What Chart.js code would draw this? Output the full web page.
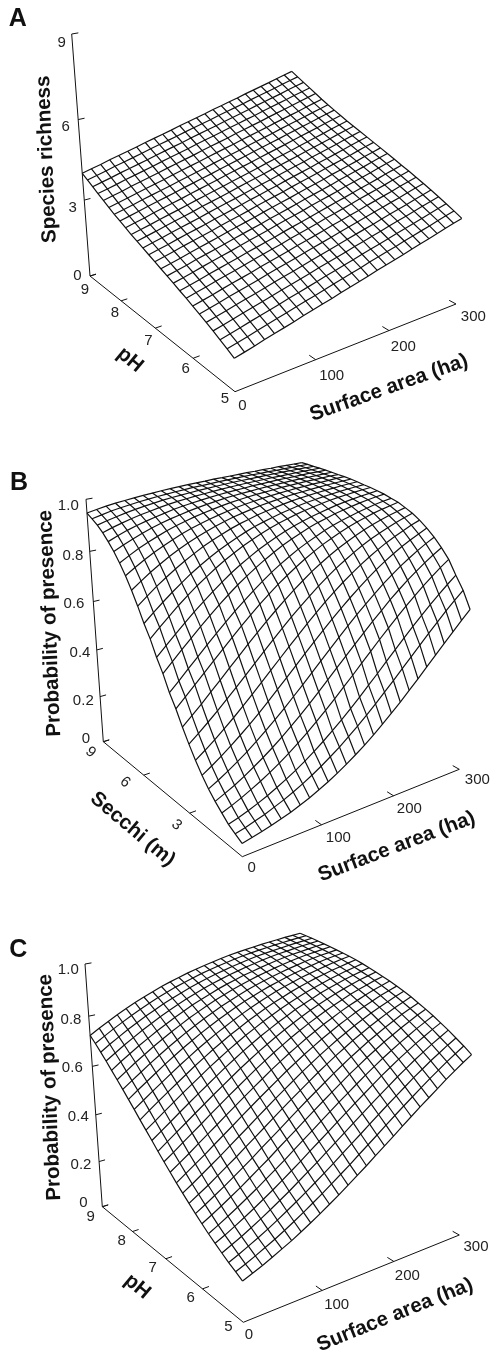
<!DOCTYPE html>
<html>
<head>
<meta charset="utf-8">
<title>Species richness and probability of presence surfaces</title>
<script src="https://cdn.jsdelivr.net/npm/chart.js@4"></script>
<style>
html,body{margin:0;padding:0;background:#fff;width:491px;height:1351px;overflow:hidden}
canvas{position:absolute;left:0;display:block}
</style>
</head>
<body>
<canvas id="panelA" width="491" height="440" style="top:0"></canvas>
<canvas id="panelB" width="491" height="470" style="top:440px"></canvas>
<canvas id="panelC" width="491" height="441" style="top:910px"></canvas>
<script>
// ---------- grid nodes and tick values ----------
const areaNodes = [0,12,24,36,48,60,72,84,96,108,120,132,144,156,168,180,192,204,216,228,240,252,264,276,288,300];
const phNodes = [5,5.16,5.32,5.48,5.64,5.8,5.96,6.12,6.28,6.44,6.6,6.76,6.92,7.08,7.24,7.4,7.56,7.72,7.88,8.04,8.2,8.36,8.52,8.68,8.84,9];
const secchiNodes = [0,0.36,0.72,1.08,1.44,1.8,2.16,2.52,2.88,3.24,3.6,3.96,4.32,4.68,5.04,5.4,5.76,6.12,6.48,6.84,7.2,7.56,7.92,8.28,8.64,9];
const areaTicks = [0,100,200,300];
const phTicks = [5,6,7,8,9];
const secchiTicks = [3,6,9];
const richnessTicks = [0,3,6,9];
const probabilityTicks = [0,0.2,0.4,0.6,0.8,1];

// ---------- surface heights: one row per pH / Secchi node, one value per area node ----------
const richness = [
[1.15,1.23,1.31,1.40,1.48,1.56,1.64,1.73,1.81,1.89,1.97,2.06,2.14,2.22,2.30,2.39,2.47,2.55,2.63,2.72,2.80,2.88,2.96,3.05,3.13,3.21],
[1.29,1.37,1.45,1.54,1.62,1.70,1.78,1.87,1.95,2.03,2.11,2.20,2.28,2.36,2.44,2.53,2.61,2.69,2.77,2.86,2.94,3.02,3.10,3.19,3.27,3.35],
[1.42,1.50,1.58,1.67,1.75,1.83,1.91,2.00,2.08,2.16,2.24,2.33,2.41,2.49,2.57,2.66,2.74,2.82,2.90,2.99,3.07,3.15,3.23,3.32,3.40,3.48],
[1.55,1.63,1.71,1.80,1.88,1.96,2.04,2.13,2.21,2.29,2.37,2.46,2.54,2.62,2.70,2.79,2.87,2.95,3.03,3.12,3.20,3.28,3.36,3.45,3.53,3.61],
[1.67,1.75,1.83,1.92,2.00,2.08,2.16,2.25,2.33,2.41,2.49,2.58,2.66,2.74,2.82,2.91,2.99,3.07,3.15,3.24,3.32,3.40,3.48,3.57,3.65,3.73],
[1.79,1.87,1.95,2.04,2.12,2.20,2.28,2.37,2.45,2.53,2.61,2.70,2.78,2.86,2.94,3.03,3.11,3.19,3.27,3.36,3.44,3.52,3.60,3.69,3.77,3.85],
[1.90,1.98,2.06,2.15,2.23,2.31,2.39,2.48,2.56,2.64,2.72,2.81,2.89,2.97,3.05,3.14,3.22,3.30,3.38,3.47,3.55,3.63,3.71,3.80,3.88,3.96],
[2.01,2.09,2.17,2.26,2.34,2.42,2.50,2.59,2.67,2.75,2.83,2.92,3.00,3.08,3.16,3.25,3.33,3.41,3.49,3.58,3.66,3.74,3.82,3.91,3.99,4.07],
[2.11,2.19,2.27,2.36,2.44,2.52,2.60,2.69,2.77,2.85,2.93,3.02,3.10,3.18,3.26,3.35,3.43,3.51,3.59,3.68,3.76,3.84,3.92,4.01,4.09,4.17],
[2.22,2.30,2.38,2.47,2.55,2.63,2.71,2.80,2.88,2.96,3.04,3.13,3.21,3.29,3.37,3.46,3.54,3.62,3.70,3.79,3.87,3.95,4.03,4.12,4.20,4.28],
[2.32,2.40,2.48,2.57,2.65,2.73,2.81,2.90,2.98,3.06,3.14,3.23,3.31,3.39,3.47,3.56,3.64,3.72,3.80,3.89,3.97,4.05,4.13,4.22,4.30,4.38],
[2.42,2.50,2.58,2.67,2.75,2.83,2.91,3.00,3.08,3.16,3.24,3.33,3.41,3.49,3.57,3.66,3.74,3.82,3.90,3.99,4.07,4.15,4.23,4.32,4.40,4.48],
[2.52,2.60,2.68,2.77,2.85,2.93,3.01,3.10,3.18,3.26,3.34,3.43,3.51,3.59,3.67,3.76,3.84,3.92,4.00,4.09,4.17,4.25,4.33,4.42,4.50,4.58],
[2.62,2.70,2.78,2.87,2.95,3.03,3.11,3.20,3.28,3.36,3.44,3.53,3.61,3.69,3.77,3.86,3.94,4.02,4.10,4.19,4.27,4.35,4.43,4.52,4.60,4.68],
[2.72,2.80,2.88,2.97,3.05,3.13,3.21,3.30,3.38,3.46,3.54,3.63,3.71,3.79,3.87,3.96,4.04,4.12,4.20,4.29,4.37,4.45,4.53,4.62,4.70,4.78],
[2.82,2.90,2.98,3.07,3.15,3.23,3.31,3.40,3.48,3.56,3.64,3.73,3.81,3.89,3.97,4.06,4.14,4.22,4.30,4.39,4.47,4.55,4.63,4.72,4.80,4.88],
[2.92,3.00,3.08,3.17,3.25,3.33,3.41,3.50,3.58,3.66,3.74,3.83,3.91,3.99,4.07,4.16,4.24,4.32,4.40,4.49,4.57,4.65,4.73,4.82,4.90,4.98],
[3.03,3.11,3.19,3.28,3.36,3.44,3.52,3.61,3.69,3.77,3.85,3.94,4.02,4.10,4.18,4.27,4.35,4.43,4.51,4.60,4.68,4.76,4.84,4.93,5.01,5.09],
[3.14,3.22,3.30,3.39,3.47,3.55,3.63,3.72,3.80,3.88,3.96,4.05,4.13,4.21,4.29,4.38,4.46,4.54,4.62,4.71,4.79,4.87,4.95,5.04,5.12,5.20],
[3.25,3.33,3.41,3.50,3.58,3.66,3.74,3.83,3.91,3.99,4.07,4.16,4.24,4.32,4.40,4.49,4.57,4.65,4.73,4.82,4.90,4.98,5.06,5.15,5.23,5.31],
[3.37,3.45,3.53,3.62,3.70,3.78,3.86,3.95,4.03,4.11,4.19,4.28,4.36,4.44,4.52,4.61,4.69,4.77,4.85,4.94,5.02,5.10,5.18,5.27,5.35,5.43],
[3.50,3.58,3.66,3.75,3.83,3.91,3.99,4.08,4.16,4.24,4.32,4.41,4.49,4.57,4.65,4.74,4.82,4.90,4.98,5.07,5.15,5.23,5.31,5.40,5.48,5.56],
[3.63,3.71,3.79,3.88,3.96,4.04,4.12,4.21,4.29,4.37,4.45,4.54,4.62,4.70,4.78,4.87,4.95,5.03,5.11,5.20,5.28,5.36,5.44,5.53,5.61,5.69],
[3.76,3.84,3.92,4.01,4.09,4.17,4.25,4.34,4.42,4.50,4.58,4.67,4.75,4.83,4.91,5.00,5.08,5.16,5.24,5.33,5.41,5.49,5.57,5.66,5.74,5.82],
[3.89,3.97,4.05,4.14,4.22,4.30,4.38,4.47,4.55,4.63,4.71,4.80,4.88,4.96,5.04,5.13,5.21,5.29,5.37,5.46,5.54,5.62,5.70,5.79,5.87,5.95],
[4.02,4.10,4.18,4.27,4.35,4.43,4.51,4.60,4.68,4.76,4.84,4.93,5.01,5.09,5.17,5.26,5.34,5.42,5.50,5.59,5.67,5.75,5.83,5.92,6.00,6.08]
];
const presenceSecchi = [
[.051,.059,.067,.076,.087,.098,.112,.126,.143,.161,.181,.203,.227,.252,.280,.309,.340,.372,.406,.440,.475,.510,.545,.580,.614,.647],
[.067,.076,.087,.098,.112,.126,.143,.161,.181,.203,.227,.252,.280,.309,.340,.372,.406,.440,.475,.510,.545,.580,.614,.647,.678,.708],
[.083,.094,.107,.121,.137,.155,.174,.195,.218,.243,.270,.299,.329,.361,.394,.429,.463,.499,.534,.569,.603,.636,.668,.698,.727,.754],
[.107,.121,.137,.155,.174,.195,.218,.243,.270,.299,.329,.361,.394,.429,.463,.499,.534,.569,.603,.636,.668,.698,.727,.754,.780,.803],
[.132,.149,.167,.188,.211,.235,.261,.289,.319,.350,.383,.417,.452,.487,.522,.557,.591,.625,.657,.689,.718,.746,.771,.795,.817,.837],
[.161,.181,.203,.227,.252,.280,.309,.340,.372,.406,.440,.475,.510,.545,.580,.614,.647,.678,.708,.737,.763,.788,.810,.831,.850,.867],
[.195,.218,.243,.270,.299,.329,.361,.394,.429,.463,.499,.534,.569,.603,.636,.668,.698,.727,.754,.780,.803,.824,.844,.861,.877,.892],
[.235,.261,.289,.319,.350,.383,.417,.452,.487,.522,.557,.591,.625,.657,.689,.718,.746,.771,.795,.817,.837,.856,.872,.887,.901,.913],
[.280,.309,.340,.372,.406,.440,.475,.510,.545,.580,.614,.647,.678,.708,.737,.763,.788,.810,.831,.850,.867,.882,.896,.909,.920,.930],
[.329,.361,.394,.429,.463,.499,.534,.569,.603,.636,.668,.698,.727,.754,.780,.803,.824,.844,.861,.877,.892,.905,.916,.926,.935,.943],
[.383,.417,.452,.487,.522,.557,.591,.625,.657,.689,.718,.746,.771,.795,.817,.837,.856,.872,.887,.901,.913,.923,.933,.941,.948,.955],
[.429,.463,.499,.534,.569,.603,.636,.668,.698,.727,.754,.780,.803,.824,.844,.861,.877,.892,.905,.916,.926,.935,.943,.951,.957,.962],
[.487,.522,.557,.591,.625,.657,.689,.718,.746,.771,.795,.817,.837,.856,.872,.887,.901,.913,.923,.933,.941,.948,.955,.961,.966,.970],
[.534,.569,.603,.636,.668,.698,.727,.754,.780,.803,.824,.844,.861,.877,.892,.905,.916,.926,.935,.943,.951,.957,.962,.967,.971,.975],
[.591,.625,.657,.689,.718,.746,.771,.795,.817,.837,.856,.872,.887,.901,.913,.923,.933,.941,.948,.955,.961,.966,.970,.974,.977,.980],
[.636,.668,.698,.727,.754,.780,.803,.824,.844,.861,.877,.892,.905,.916,.926,.935,.943,.951,.957,.962,.967,.971,.975,.978,.981,.983],
[.689,.718,.746,.771,.795,.817,.837,.856,.872,.887,.901,.913,.923,.933,.941,.948,.955,.961,.966,.970,.974,.977,.980,.983,.985,.987],
[.737,.763,.788,.810,.831,.850,.867,.882,.896,.909,.920,.930,.938,.946,.953,.959,.964,.969,.973,.976,.979,.982,.984,.986,.988,.990],
[.780,.803,.824,.844,.861,.877,.892,.905,.916,.926,.935,.943,.951,.957,.962,.967,.971,.975,.978,.981,.983,.986,.987,.989,.991,.992],
[.817,.837,.856,.872,.887,.901,.913,.923,.933,.941,.948,.955,.961,.966,.970,.974,.977,.980,.983,.985,.987,.989,.990,.991,.993,.993],
[.850,.867,.882,.896,.909,.920,.930,.938,.946,.953,.959,.964,.969,.973,.976,.979,.982,.984,.986,.988,.990,.991,.992,.993,.994,.995],
[.877,.892,.905,.916,.926,.935,.943,.951,.957,.962,.967,.971,.975,.978,.981,.983,.986,.987,.989,.991,.992,.993,.994,.995,.995,.996],
[.901,.913,.923,.933,.941,.948,.955,.961,.966,.970,.974,.977,.980,.983,.985,.987,.989,.990,.991,.993,.993,.994,.995,.996,.996,.997],
[.920,.930,.938,.946,.953,.959,.964,.969,.973,.976,.979,.982,.984,.986,.988,.990,.991,.992,.993,.994,.995,.996,.996,.997,.997,.997],
[.935,.943,.951,.957,.962,.967,.971,.975,.978,.981,.983,.986,.987,.989,.991,.992,.993,.994,.995,.995,.996,.996,.997,.997,.998,.998],
[.948,.955,.961,.966,.970,.974,.977,.980,.983,.985,.987,.989,.990,.991,.993,.993,.994,.995,.996,.996,.997,.997,.998,.998,.998,.998]
];
const presencePH = [
[.157,.172,.187,.204,.222,.240,.260,.281,.303,.326,.349,.374,.399,.424,.451,.477,.503,.530,.556,.582,.607,.632,.657,.680,.703,.724],
[.172,.187,.204,.222,.240,.260,.281,.303,.326,.349,.374,.399,.424,.451,.477,.503,.530,.556,.582,.607,.632,.657,.680,.703,.724,.745],
[.187,.204,.222,.240,.260,.281,.303,.326,.349,.374,.399,.424,.451,.477,.503,.530,.556,.582,.607,.632,.657,.680,.703,.724,.745,.764],
[.204,.222,.240,.260,.281,.303,.326,.349,.374,.399,.424,.451,.477,.503,.530,.556,.582,.607,.632,.657,.680,.703,.724,.745,.764,.783],
[.222,.240,.260,.281,.303,.326,.349,.374,.399,.424,.451,.477,.503,.530,.556,.582,.607,.632,.657,.680,.703,.724,.745,.764,.783,.800],
[.240,.260,.281,.303,.326,.349,.374,.399,.424,.451,.477,.503,.530,.556,.582,.607,.632,.657,.680,.703,.724,.745,.764,.783,.800,.817],
[.260,.281,.303,.326,.349,.374,.399,.424,.451,.477,.503,.530,.556,.582,.607,.632,.657,.680,.703,.724,.745,.764,.783,.800,.817,.832],
[.281,.303,.326,.349,.374,.399,.424,.451,.477,.503,.530,.556,.582,.607,.632,.657,.680,.703,.724,.745,.764,.783,.800,.817,.832,.846],
[.303,.326,.349,.374,.399,.424,.451,.477,.503,.530,.556,.582,.607,.632,.657,.680,.703,.724,.745,.764,.783,.800,.817,.832,.846,.860],
[.326,.349,.374,.399,.424,.451,.477,.503,.530,.556,.582,.607,.632,.657,.680,.703,.724,.745,.764,.783,.800,.817,.832,.846,.860,.872],
[.349,.374,.399,.424,.451,.477,.503,.530,.556,.582,.607,.632,.657,.680,.703,.724,.745,.764,.783,.800,.817,.832,.846,.860,.872,.883],
[.374,.399,.424,.451,.477,.503,.530,.556,.582,.607,.632,.657,.680,.703,.724,.745,.764,.783,.800,.817,.832,.846,.860,.872,.883,.894],
[.399,.424,.451,.477,.503,.530,.556,.582,.607,.632,.657,.680,.703,.724,.745,.764,.783,.800,.817,.832,.846,.860,.872,.883,.894,.903],
[.424,.451,.477,.503,.530,.556,.582,.607,.632,.657,.680,.703,.724,.745,.764,.783,.800,.817,.832,.846,.860,.872,.883,.894,.903,.912],
[.451,.477,.503,.530,.556,.582,.607,.632,.657,.680,.703,.724,.745,.764,.783,.800,.817,.832,.846,.860,.872,.883,.894,.903,.912,.920],
[.477,.503,.530,.556,.582,.607,.632,.657,.680,.703,.724,.745,.764,.783,.800,.817,.832,.846,.860,.872,.883,.894,.903,.912,.920,.928],
[.503,.530,.556,.582,.607,.632,.657,.680,.703,.724,.745,.764,.783,.800,.817,.832,.846,.860,.872,.883,.894,.903,.912,.920,.928,.935],
[.530,.556,.582,.607,.632,.657,.680,.703,.724,.745,.764,.783,.800,.817,.832,.846,.860,.872,.883,.894,.903,.912,.920,.928,.935,.941],
[.556,.582,.607,.632,.657,.680,.703,.724,.745,.764,.783,.800,.817,.832,.846,.860,.872,.883,.894,.903,.912,.920,.928,.935,.941,.946],
[.582,.607,.632,.657,.680,.703,.724,.745,.764,.783,.800,.817,.832,.846,.860,.872,.883,.894,.903,.912,.920,.928,.935,.941,.946,.951],
[.607,.632,.657,.680,.703,.724,.745,.764,.783,.800,.817,.832,.846,.860,.872,.883,.894,.903,.912,.920,.928,.935,.941,.946,.951,.956],
[.632,.657,.680,.703,.724,.745,.764,.783,.800,.817,.832,.846,.860,.872,.883,.894,.903,.912,.920,.928,.935,.941,.946,.951,.956,.960],
[.657,.680,.703,.724,.745,.764,.783,.800,.817,.832,.846,.860,.872,.883,.894,.903,.912,.920,.928,.935,.941,.946,.951,.956,.960,.964],
[.680,.703,.724,.745,.764,.783,.800,.817,.832,.846,.860,.872,.883,.894,.903,.912,.920,.928,.935,.941,.946,.951,.956,.960,.964,.968],
[.703,.724,.745,.764,.783,.800,.817,.832,.846,.860,.872,.883,.894,.903,.912,.920,.928,.935,.941,.946,.951,.956,.960,.964,.968,.971],
[.724,.745,.764,.783,.800,.817,.832,.846,.860,.872,.883,.894,.903,.912,.920,.928,.935,.941,.946,.951,.956,.960,.964,.968,.971,.974]
];

// ---------- view settings (page pixels) ----------
const INK = '#111111';
const TICK_FONT = '15px "Liberation Sans", Arial, sans-serif';
const TITLE_FONT = 'bold 20.5px "Liberation Sans", Arial, sans-serif';
const LETTER_FONT = 'bold 25px "Liberation Sans", Arial, sans-serif';
const PERSPECTIVE = {a: 0.15, b: 0.22, c: -0.105};
const deg = d => d * Math.PI / 180;

function makeProjection(view, yMin, yMax, zMax) {
  const {a, b, c} = PERSPECTIVE;
  const {O, U, V, Z} = view;
  const k = i => [
    U[i] * (1 + a) - O[i],
    V[i] * (1 + b) - O[i],
    Z[i] * (1 + b + c) - V[i] * (1 + b)
  ];
  const kx = k(0), ky = k(1);
  return (area, yVal, zVal) => {
    const u = area / 300, v = (yVal - yMin) / (yMax - yMin), t = zVal / zMax;
    const w = 1 + a * u + b * v + c * t;
    return {
      x: (O[0] + kx[0] * u + kx[1] * v + kx[2] * t) / w,
      y: (O[1] + ky[0] * u + ky[1] * v + ky[2] * t) / w
    };
  };
}

const lineSet = (data, width) => ({
  data, showLine: true, borderColor: INK, backgroundColor: INK,
  borderWidth: width, pointRadius: 0, tension: 0, clip: false
});

function buildPanel(cfg) {
  const P = makeProjection(cfg.view, cfg.yNodes[0], cfg.yNodes[cfg.yNodes.length - 1], cfg.zTicks[cfg.zTicks.length - 1]);
  const yLo = cfg.yNodes[0], yHi = cfg.yNodes[cfg.yNodes.length - 1], zHi = cfg.zTicks[cfg.zTicks.length - 1];
  const sets = [];
  // axes
  sets.push(lineSet([P(0, yHi, 0), P(0, yHi, zHi)], 1));
  sets.push(lineSet([P(0, yHi, 0), P(0, yLo, 0)], 1));
  sets.push(lineSet([P(0, yLo, 0), P(300, yLo, 0)], 1));
  // tick marks
  cfg.zTicks.forEach(z => sets.push(lineSet([P(0, yHi, z), P(8, yHi, z)], 1)));
  cfg.yTicks.forEach(y => sets.push(lineSet([P(0, y, 0), P(8, y, 0)], 1)));
  areaTicks.slice(1).forEach(t => sets.push(lineSet([P(t, yLo, 0), P(t, yLo + (yHi - yLo) * 0.035, 0)], 1)));
  // surface mesh
  cfg.surface.forEach((row, j) => sets.push(lineSet(row.map((z, i) => P(areaNodes[i], cfg.yNodes[j], z)), 1.2)));
  areaNodes.forEach((area, i) => sets.push(lineSet(cfg.yNodes.map((y, j) => P(area, y, cfg.surface[j][i])), 1.2)));

  new Chart(document.getElementById(cfg.id), {
    type: 'scatter',
    data: {datasets: sets},
    options: {
      responsive: false, animation: false, events: [],
      layout: {padding: 0},
      plugins: {legend: {display: false}, tooltip: {enabled: false}},
      scales: {
        x: {type: 'linear', display: false, min: 0, max: 491},
        y: {type: 'linear', display: false, min: cfg.top, max: cfg.top + cfg.height, reverse: true}
      }
    },
    plugins: [{
      id: 'panelText',
      afterDatasetsDraw(chart) {
        const g = chart.ctx, sx = chart.scales.x, sy = chart.scales.y;
        g.save();
        g.textAlign = 'center';
        g.textBaseline = 'middle';
        cfg.texts.forEach(([s, x, y, font, rot, color]) => {
          g.save();
          g.translate(sx.getPixelForValue(x), sy.getPixelForValue(y));
          if (rot) g.rotate(deg(rot));
          g.font = font;
          g.fillStyle = color || '#111';
          g.fillText(s, 0, 0);
          g.restore();
        });
        g.restore();
      }
    }]
  });
}

const tick = (s, x, y, rot) => [s, x, y, TICK_FONT, rot || 0, '#222'];
const title = (s, x, y, rot) => [s, x, y, TITLE_FONT, rot, '#111'];
const letter = (s, x, y) => [s, x, y, LETTER_FONT, 0, '#111'];

buildPanel({
  id: 'panelA', top: 0, height: 440,
  view: {O: [235, 391.7], U: [456, 304], V: [90, 276], Z: [71.7, 34]},
  yNodes: phNodes, yTicks: phTicks.slice(1), zTicks: richnessTicks, surface: richness,
  texts: [
    letter('A', 17.7, 18.8),
    tick('9', 61.7, 42.7), tick('6', 65.7, 126.7), tick('3', 72.7, 208.3), tick('0', 77.3, 276),
    tick('9', 85, 290), tick('8', 115, 312.7), tick('7', 148.3, 340.7), tick('6', 185.7, 369.3), tick('5', 225, 399.3),
    tick('0', 242.3, 406), tick('100', 331.7, 375.7), tick('200', 403.3, 346.7), tick('300', 473.3, 317.3),
    title('Species richness', 46.7, 159.3, -92.3),
    title('pH', 130, 360, 40),
    title('Surface area (ha)', 389, 388, -19.5)
  ]
});

buildPanel({
  id: 'panelB', top: 440, height: 470,
  view: {O: [242.3, 856.7], U: [459.3, 769.3], V: [103.3, 741.7], Z: [86, 499.3]},
  yNodes: secchiNodes, yTicks: secchiTicks, zTicks: probabilityTicks, surface: presenceSecchi,
  texts: [
    letter('B', 19, 482.8),
    tick('1.0', 68.3, 506), tick('0.8', 73, 556), tick('0.6', 74, 604), tick('0.4', 80, 653.3), tick('0.2', 83.3, 700.7), tick('0', 86, 739.3),
    tick('9', 90.7, 752.3, 40), tick('6', 125, 782.3, 40), tick('3', 176.7, 825, 40),
    tick('0', 251.7, 868.3), tick('100', 338.3, 838.3), tick('200', 409.3, 809.3), tick('300', 477.3, 780),
    title('Probability of presence', 50, 623.3, -92.3),
    title('Secchi (m)', 132.7, 829.3, 40),
    title('Surface area (ha)', 396.7, 846.7, -20.8)
  ]
});

buildPanel({
  id: 'panelC', top: 910, height: 441,
  view: {O: [243.3, 1322.3], U: [459.3, 1235], V: [102.3, 1206.7], Z: [85, 964]},
  yNodes: phNodes, yTicks: phTicks.slice(1), zTicks: probabilityTicks, surface: presencePH,
  texts: [
    letter('C', 18.3, 950),
    tick('1.0', 68.3, 970), tick('0.8', 71, 1020), tick('0.6', 72.3, 1068.3), tick('0.4', 78.3, 1117.3), tick('0.2', 81, 1165), tick('0', 83.3, 1203.3),
    tick('9', 90.7, 1217.3), tick('8', 121.7, 1240.7), tick('7', 152.7, 1268.3), tick('6', 190.7, 1297.7), tick('5', 228.3, 1327.3),
    tick('0', 249, 1335), tick('100', 336.7, 1305), tick('200', 407.3, 1276), tick('300', 476, 1247.3),
    title('Probability of presence', 50, 1087.3, -92.3),
    title('pH', 137.3, 1286.7, 40),
    title('Surface area (ha)', 395, 1315, -22)
  ]
});
</script>
</body>
</html>
